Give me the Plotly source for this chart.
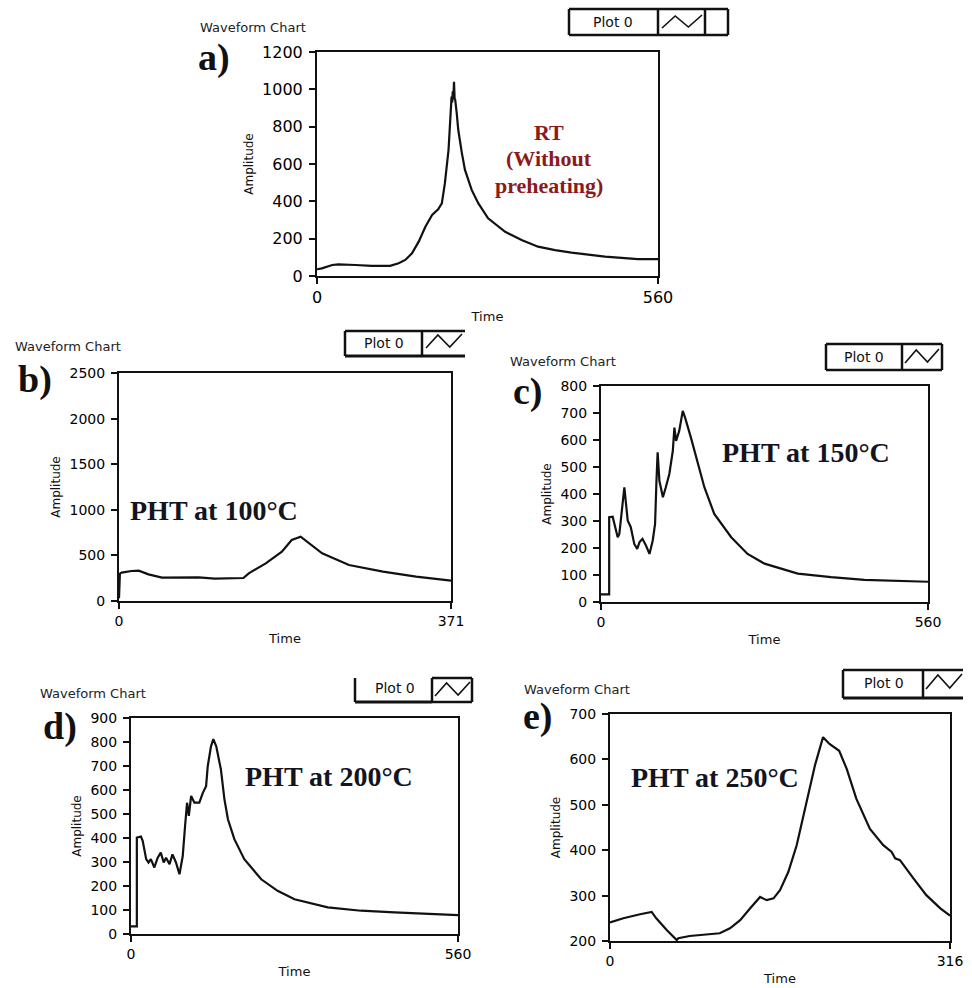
import plotly.graph_objects as go

W, H = 972, 988

# ---------------- data ----------------
time_a = [0, 8, 25, 35, 63, 90, 120, 134, 145, 156, 167, 178, 189, 199, 205, 210, 216, 218.5, 220,
          221, 222, 223, 224, 225, 226, 227, 229.5, 232, 238, 243, 254, 265, 281, 309, 336, 363,
          391, 418, 473, 527, 560]
amp_a = [36, 41, 59, 62, 59, 54, 54, 68, 86, 121, 184, 264, 327, 357, 389, 496, 675, 800, 907,
         961, 930, 990, 960, 1040, 950, 943, 871, 782, 657, 568, 461, 389, 309, 237, 193, 157,
         139, 125, 104, 90, 90]

time_b = [0, 1, 3, 14, 22, 33, 48, 70, 89, 107, 139, 145, 164, 182, 193, 203, 208, 227, 257, 295,
          332, 371]
amp_b = [30, 300, 311, 329, 333, 292, 256, 256, 260, 245, 252, 303, 413, 541, 669, 705, 669, 523,
         395, 322, 267, 223]

time_c = [0, 14, 14, 20, 23, 28.6, 31.4, 34, 40, 45.7, 51, 57, 62, 66, 71, 77, 83, 88.6, 92.6, 95,
          97, 100, 106, 111, 117, 123, 125.7, 128.6, 134, 140, 144, 154, 166, 177, 194, 223, 251,
          280, 337, 394, 451, 509, 560]
amp_c = [28, 28, 314, 316, 289, 240, 252, 302, 425, 302, 277, 215, 197, 222, 234, 209, 178, 228,
         289, 449, 554, 449, 388, 425, 474, 560, 646, 597, 634, 708, 683, 609, 511, 425, 326, 240,
         178, 142, 105, 92, 82, 78, 75]

time_d = [0, 10, 10, 17, 20, 26, 30, 34, 40, 45.7, 51, 56, 60, 66, 71, 77, 83, 88.6, 92.6, 96, 99,
          103, 108.6, 117, 123, 128.6, 131.4, 137, 141, 146, 154, 160, 166, 177, 194, 223, 251, 280,
          337, 394, 451, 509, 560]
amp_d = [32, 32, 402, 406, 388, 312, 298, 312, 277, 318, 339, 298, 318, 291, 332, 298, 249, 325,
         450, 547, 492, 575, 547, 547, 588, 616, 699, 782, 812, 782, 685, 561, 478, 395, 312, 228,
         180, 145, 111, 97, 90, 83, 79]

time_e = [0, 12.4, 28, 38.7, 43, 52.7, 62, 63.5, 74, 90, 102, 111.5, 121, 130.3, 139.5, 145.6, 152,
          158, 165.7, 173.5, 183, 190.5, 198, 204, 213, 220, 229, 241.6, 254, 261.8, 265, 269.5, 282,
          294, 307, 316]
amp_e = [241, 250, 259, 264, 250, 224, 202, 206, 211, 215, 217, 228, 246, 272, 297, 290, 294, 312,
         352, 411, 506, 587, 649, 634, 619, 579, 513, 447, 411, 396, 382, 378, 338, 301, 272, 256]

yticks_a = [0, 200, 400, 600, 800, 1000, 1200]
yticks_b = [0, 500, 1000, 1500, 2000, 2500]
yticks_c = [0, 100, 200, 300, 400, 500, 600, 700, 800]
yticks_d = [0, 100, 200, 300, 400, 500, 600, 700, 800, 900]
yticks_e = [200, 300, 400, 500, 600, 700]

panel_letters = ["a)", "b)", "c)", "d)", "e)"]
panel_notes = ["", "PHT at 100°C", "PHT at 150°C", "PHT at 200°C", "PHT at 250°C"]
rt_note = ["RT", "(Without", "preheating)"]

# ---------------- helpers ----------------
def fx(x):
    return x / W


def fy(y):
    return 1 - y / H


SANS = "Tahoma, Verdana, 'DejaVu Sans', sans-serif"
SERIF = "'Times New Roman', 'Liberation Serif', serif"

panels = [
    dict(t=time_a, a=amp_a, box=(317, 52, 658, 276), xr=[0, 560], yr=[0, 1200], yt=yticks_a, tf=16),
    dict(t=time_b, a=amp_b, box=(119, 373, 451, 601), xr=[0, 371], yr=[0, 2500], yt=yticks_b, tf=14),
    dict(t=time_c, a=amp_c, box=(601, 386, 928, 602), xr=[0, 560], yr=[0, 800], yt=yticks_c, tf=14),
    dict(t=time_d, a=amp_d, box=(131, 718, 458, 934), xr=[0, 560], yr=[0, 900], yt=yticks_d, tf=14),
    dict(t=time_e, a=amp_e, box=(610, 714, 950, 941), xr=[0, 316], yr=[200, 700], yt=yticks_e, tf=14),
]

fig = go.Figure()
layout = dict(
    width=W, height=H, margin=dict(l=0, r=0, t=0, b=0),
    paper_bgcolor="white", plot_bgcolor="white", showlegend=False,
)

for i, p in enumerate(panels):
    n = "" if i == 0 else str(i + 1)
    x0, y0, x1, y1 = p["box"]
    fig.add_trace(go.Scatter(
        x=p["t"], y=p["a"], mode="lines",
        line=dict(color="#111111", width=2.2),
        xaxis="x" + n, yaxis="y" + n, hoverinfo="skip",
    ))
    axis_common = dict(
        showline=True, mirror=True, linecolor="#111111", linewidth=2,
        showgrid=False, zeroline=False, ticks="outside", ticklen=6, tickwidth=2,
        tickcolor="#111111", automargin=False,
        tickfont=dict(family=SANS, size=p["tf"], color="#000000"),
    )
    layout["xaxis" + n] = dict(
        axis_common, domain=[fx(x0), fx(x1)], range=p["xr"],
        tickvals=p["xr"], anchor="y" + n,
        title=dict(text="Time", font=dict(family=SANS, size=13, color="#111111"), standoff=6),
    )
    layout["yaxis" + n] = dict(
        axis_common, domain=[fy(y1), fy(y0)], range=p["yr"],
        tickvals=p["yt"], anchor="x" + n, ticklabelstandoff=3,
        title=dict(text="Amplitude", font=dict(family=SANS, size=12, color="#111111"), standoff=6),
    )

fig.update_layout(**layout)

ann = []
# "Waveform Chart" captions and panel letters
captions = [(198, 27), (13, 347), (508, 361), (38, 693), (522, 689)]
letters = [(196, 57), (16, 380), (511, 391), (41, 726), (521, 716)]
for (cx, cy), (lx, ly), lt in zip(captions, letters, panel_letters):
    ann.append(dict(x=fx(cx), y=fy(cy), xref="paper", yref="paper", xanchor="left", yanchor="middle",
                    text="Waveform Chart", showarrow=False,
                    font=dict(family=SANS, size=13, color="#222222")))
    ann.append(dict(x=fx(lx), y=fy(ly), xref="paper", yref="paper", xanchor="left", yanchor="middle",
                    text="<b>" + lt + "</b>", showarrow=False,
                    font=dict(family=SERIF, size=38, color="#111111")))

# RT note (dark red)
for txt, yy in zip(rt_note, [132, 158, 185]):
    ann.append(dict(x=fx(549), y=fy(yy), xref="paper", yref="paper", xanchor="center", yanchor="middle",
                    text="<b>" + txt + "</b>", showarrow=False,
                    font=dict(family=SERIF, size=22, color="#8B1A1A")))

# PHT notes
note_pos = [None, (214, 510), (806, 452), (329, 776), (715, 777)]
for txt, pos in zip(panel_notes, note_pos):
    if pos is None:
        continue
    ann.append(dict(x=fx(pos[0]), y=fy(pos[1]), xref="paper", yref="paper", xanchor="center",
                    yanchor="middle", text="<b>" + txt + "</b>", showarrow=False,
                    font=dict(family=SERIF, size=28, color="#14141f")))

# Legend "Plot 0" labels
legend_text = [(613, 22), (384, 343), (864, 357), (395, 688), (884, 683)]
for lx, ly in legend_text:
    ann.append(dict(x=fx(lx), y=fy(ly), xref="paper", yref="paper", xanchor="center", yanchor="middle",
                    text="Plot 0", showarrow=False,
                    font=dict(family=SANS, size=14, color="#111111")))

fig.update_layout(annotations=ann)

# Legend boxes (pixel segments)
shapes = []


def seg(xa, ya, xb, yb, w=2.5):
    shapes.append(dict(type="line", xref="paper", yref="paper",
                       x0=fx(xa), y0=fy(ya), x1=fx(xb), y1=fy(yb),
                       line=dict(color="#111111", width=w)))


def rect(xa, ya, xb, yb, w=2.5):
    seg(xa, ya, xb, ya, w)
    seg(xa, yb, xb, yb, w)
    seg(xa, ya, xa, yb, w)
    seg(xb, ya, xb, yb, w)


def wave(xa, xb, ytop, ybot):
    dx = (xb - xa)
    pts = [(xa, ybot), (xa + 0.33 * dx, ytop), (xa + 0.66 * dx, ybot - 1), (xb, ytop - 1)]
    path = "M " + " L ".join(f"{fx(x):.5f},{fy(y):.5f}" for x, y in pts)
    shapes.append(dict(type="path", xref="paper", yref="paper", path=path,
                       line=dict(color="#111111", width=1.6)))


# a
rect(569, 9, 728, 35)
seg(658, 9, 658, 35)
seg(705, 9, 705, 35)
wave(662, 702, 16, 28)
# b
seg(345, 331, 465, 331)
seg(345, 356, 465, 356, 3)
seg(345, 331, 345, 356)
seg(422, 331, 422, 356)
wave(426, 462, 335, 348)
# c
rect(826, 344, 942, 370)
seg(902, 344, 902, 370)
wave(905, 939, 350, 363)
# d
seg(355, 678, 355, 702)
seg(355, 702, 432, 702, 3)
rect(432, 678, 472, 702)
wave(435, 470, 683, 696)
# e
seg(843, 670, 963, 670)
seg(843, 698, 963, 698, 3)
seg(843, 670, 843, 698)
seg(923, 670, 923, 698)
wave(926, 962, 675, 689)

fig.update_layout(shapes=shapes)

fig.write_html(
    "out.html",
    config={"displayModeBar": False},
    post_script="document.body.style.margin='0';document.body.style.overflow='hidden';",
)
